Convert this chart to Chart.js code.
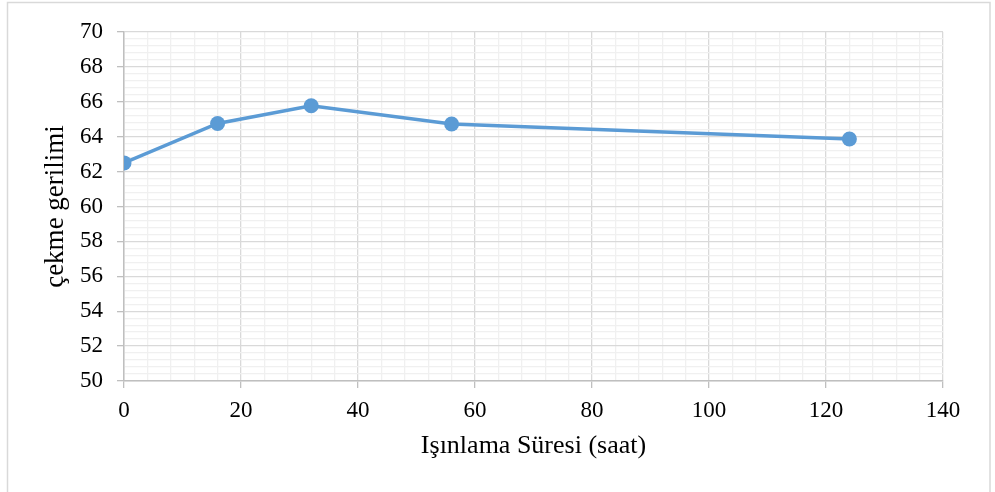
<!DOCTYPE html>
<html>
<head>
<meta charset="utf-8">
<script src="https://cdn.jsdelivr.net/npm/chart.js@4/dist/chart.umd.min.js"></script>
<style>
  html, body { margin: 0; padding: 0; background: #fff; }
  #wrap { width: 995px; height: 492px; }
</style>
</head>
<body>
<div id="wrap"><canvas id="chart" width="995" height="492"></canvas></div>
<script>
// values
const hours = [0, 16, 32, 56, 124];
const stress = [62.5, 64.76, 65.77, 64.73, 63.87];
const xTitle = 'Işınlama Süresi (saat)';
const yTitle = 'çekme gerilimi';

const points = hours.map((h, i) => ({ x: h, y: stress[i] }));

const serif = "'Liberation Serif', 'Times New Roman', serif";
const majorGrid = '#d9d9d9';
const minorGrid = '#f0f0f0';
const axisLine = '#bfbfbf';

function isMajor(v, step) {
  const r = v / step;
  return Math.abs(r - Math.round(r)) < 1e-6;
}

const frame = {
  id: 'frame',
  beforeDraw(chart) {
    const ctx = chart.ctx;
    ctx.save();
    ctx.fillStyle = '#fff';
    ctx.fillRect(0, 0, chart.width, chart.height);
    ctx.strokeStyle = '#d9d9d9';
    ctx.lineWidth = 1.5;
    ctx.strokeRect(7.5, 2.5, 982.5, 500);
    ctx.restore();
  }
};

const chartConfig = {
  type: 'scatter',
  data: {
    datasets: [{
      label: yTitle,
      data: points,
      showLine: true,
      borderColor: '#5b9bd5',
      backgroundColor: '#5b9bd5',
      borderWidth: 3.5,
      pointRadius: 7.5,
      pointHoverRadius: 7.5,
      pointBorderWidth: 0
    }]
  },
  options: {
    responsive: false,
    animation: false,
    layout: { padding: { left: 8, top: 32, right: 52, bottom: 0 } },
    plugins: { legend: { display: false }, tooltip: { enabled: false } },
    scales: {
      x: {
        type: 'linear',
        min: 0,
        max: 140,
        afterFit(scale) { scale.height = 111; },
        border: { color: axisLine, width: 1.5 },
        grid: {
          color: c => isMajor(c.tick.value, 20) ? majorGrid : minorGrid,
          tickColor: c => isMajor(c.tick.value, 20) ? axisLine : 'rgba(0,0,0,0)',
          tickLength: 7,
          lineWidth: 1.3
        },
        ticks: {
          stepSize: 4,
          maxTicksLimit: 200,
          autoSkip: false,
          maxRotation: 0,
          padding: 9,
          color: '#000',
          font: { family: serif, size: 23 },
          callback: v => isMajor(v, 20) ? String(Math.round(v)) : ''
        },
        title: {
          display: true,
          text: xTitle,
          color: '#000',
          font: { family: serif, size: 26 },
          padding: { top: 0, bottom: 30 }
        }
      },
      y: {
        type: 'linear',
        min: 50,
        max: 70,
        afterFit(scale) { scale.width = 116; },
        border: { color: axisLine, width: 1.5 },
        grid: {
          color: c => isMajor(c.tick.value, 2) ? majorGrid : minorGrid,
          tickColor: c => isMajor(c.tick.value, 2) ? axisLine : 'rgba(0,0,0,0)',
          tickLength: 7,
          lineWidth: 1.3
        },
        ticks: {
          stepSize: 0.4,
          maxTicksLimit: 200,
          autoSkip: false,
          padding: 14,
          color: '#000',
          font: { family: serif, size: 23 },
          callback: v => isMajor(v, 2) ? String(Math.round(v)) : ''
        },
        title: {
          display: true,
          text: yTitle,
          color: '#000',
          font: { family: serif, size: 27 },
          padding: { top: 32, bottom: 0 }
        }
      }
    }
  },
  plugins: [frame]
};

const myChart = new Chart(document.getElementById('chart'), chartConfig);
</script>
</body>
</html>
